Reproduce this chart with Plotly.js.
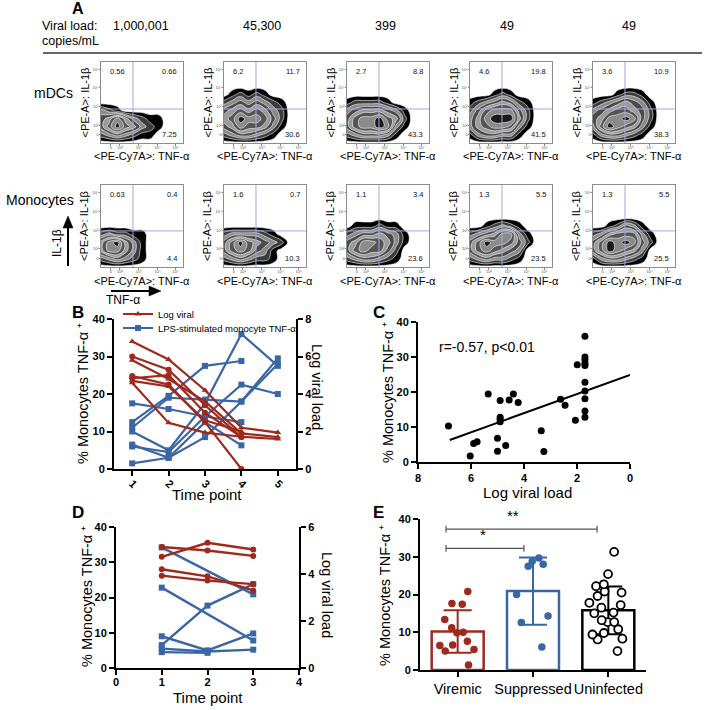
<!DOCTYPE html>
<html><head><meta charset="utf-8">
<script src="https://cdn.plot.ly/plotly-3.0.1.min.js"></script>
<style>html,body{margin:0;padding:0;background:#fff}#chart{width:708px;height:710px}</style>
</head><body><div id="chart"></div>
<script>
// ---------------- Panel A data ----------------
const viralLoads = ["1,000,001", "45,300", "399", "49", "49"];
const mdcQuad = [["0.56","0.66","7.25"],["6.2","11.7","30.6"],["2.7","8.8","43.3"],["4.6","19.8","41.5"],["3.6","10.9","38.3"]];
const monoQuad = [["0.63","0.4","4.4"],["1.6","0.7","10.3"],["1.1","3.4","23.6"],["1.3","5.5","23.5"],["1.3","5.5","25.5"]];
const flowGridX = [0,0.1,0.2,0.3,0.4,0.5,0.6,0.7,0.8];
const flowGridY = [0,0.1,0.2,0.3,0.4,0.5,0.6,0.7,0.8];
const flowTickText = ["0","10²","10³","10⁴","10⁵"];
// density rows, bottom (y=0) to top (y=0.8)
const mdcDensity = [
 ["000000000","234321100","468653210","457532110","321000000","000000000","000000000","000000000","000000000"],
 ["000000000","234432100","457665310","568776420","456565320","234343210","012121000","000000000","000000000"],
 ["000000000","234443100","467787310","467786520","345554310","122221000","000000000","000000000","000000000"],
 ["000000000","134433100","356776310","357888520","246777420","123454210","000121000","000000000","000000000"],
 ["000000000","134432100","368765310","457787420","345665420","123454310","000122100","000000000","000000000"]
];
const monoDensity = [
 ["000000000","234321000","577531000","578531000","232211000","000000000","000000000","000000000","000000000"],
 ["000000000","234322100","467643100","468654320","233332100","000000000","000000000","000000000","000000000"],
 ["000000000","234432100","467664200","457765310","234454310","011121100","000000000","000000000","000000000"],
 ["000000000","234332100","467654300","468776420","234577310","001232100","000000000","000000000","000000000"],
 ["000000000","134432100","468765300","468787420","235666310","001243100","000000000","000000000","000000000"]
];

// ---------------- Panel B data ----------------
const timePointsB = [1,2,3,4,5];
const bLogViral = [
 [6.8,5.84,4.2,2.2,1.94],
 [6.0,5.3,3.4,1.7,null],
 [5.8,4.8,3.6,1.9,1.7],
 [4.96,4.5,2.5,0,null],
 [4.84,5.0,3.0,1.7,null],
 [4.7,4.4,2.6,2.0,null],
 [4.6,2.46,1.94,1.72,1.6]
];
const bLogSymbols = ["triangle-up","circle","triangle-up","circle","circle","triangle-up","triangle-up"];
const bTnf = [
 [1.5,3,8.5,18,28],
 [6,4.5,14,22.5,20],
 [12.5,19.5,27.5,28.8,null],
 [17.5,16,14,12.5,null],
 [11,19,18.5,18,29.5],
 [10,5,17.5,36,27.5],
 [6.5,3,12.5,6.3,null]
];

// ---------------- Panel C data ----------------
const cLogViral = [6.85,5.9,5.77,6.03,5.35,4.9,4.9,4.9,4.9,5.0,5.0,4.69,4.56,4.4,4.22,3.35,3.25,2.62,2.45,2.06,1.99,1.7,1.7,1.7,1.7,1.7,1.7,1.7,1.7,1.7,1.7];
const cTnf = [10.3,5.3,5.8,1.7,19.4,17.6,12.8,12.2,11.5,6.8,3.1,4.7,17.7,19.4,17.0,8.9,3.0,17.9,16.2,11.9,27.8,35.9,30.0,29.2,28.2,27.6,22.8,20.3,18.1,14.6,12.8];
const cFitX = [6.8, 0];
const cFitY = [6.3, 24.9];
const cStat = "r=-0.57, p<0.01";

// ---------------- Panel D data ----------------
const timePointsD = [1,2,3];
const dLogViral = [
 [5.15,5.0,4.77],
 [4.73,5.33,5.04],
 [4.2,3.9,3.3],
 [3.93,3.72,3.57]
];
const dTnf = [
 [34.2,null,20.9],
 [22.8,null,7.8],
 [6.5,17.7,23.8],
 [9,5,9.8],
 [5.5,4.7,5.2],
 [4.5,4.3,null]
];

// ---------------- Panel E data ----------------
const eGroups = ["Viremic","Suppressed","Uninfected"];
const eMeans = [10.2, 20.9, 15.8];
const eSD = [5.6, 8.9, 6.3];
const eViremic = [20.8,17.4,17.6,13.4,11.2,10.0,9.9,7.6,6.6,6.5,5.4,5.0,1.3];
const eSuppressed = [29.7,28.0,27.5,28.8,20.0,14.3,12.6,6.1];
const eUninfected = [31.3,25.4,22.2,22.7,20.8,20.5,19.6,17.8,17.2,16.5,15.2,15.0,13.2,12.7,12.7,10.8,9.8,9.4,8.3,8.1,5.0];

// ---------------- styling ----------------
const W = 708, H = 710;
const FONT = 'Liberation Sans, Arial, Helvetica, sans-serif';
const RED = '#9e2a1e', BLUE = '#3b66a5';
const YT = '% Monocytes TNF-α ⁺';
const px = x => x / W, py = y => 1 - y / H;

const traces = [];
const legendStyle = y => ({x: px(118), y: py(y), xanchor: 'left', yanchor: 'middle', bgcolor: 'rgba(0,0,0,0)',
  font: {size: 9.5, family: FONT, color: '#000'}, itemwidth: 30, tracegroupgap: 0});
const layout = {
  width: W, height: H, margin: {l:0, r:0, t:0, b:0},
  paper_bgcolor: '#fff', plot_bgcolor: 'rgba(0,0,0,0)',
  font: {family: FONT, color: '#000'},
  showlegend: true, barmode: 'overlay',
  legend: legendStyle(314), legend2: legendStyle(328),
  annotations: [], shapes: []
};
const ann = layout.annotations, shp = layout.shapes;
function txt(x, y, text, o) {
  ann.push(Object.assign({x: px(x), y: py(y), xref: 'paper', yref: 'paper', text: text, showarrow: false,
    xanchor: 'center', yanchor: 'middle', font: {family: FONT, size: 13, color: '#000'}}, o || {}));
}
function pline(x0, y0, x1, y1, color, width) {
  shp.push({type: 'line', xref: 'paper', yref: 'paper', x0: px(x0), x1: px(x1), y0: py(y0), y1: py(y1), line: {color: color, width: width}});
}
function ppath(pts, color) {
  const d = pts.map((p, i) => (i ? 'L' : 'M') + px(p[0]).toFixed(5) + ',' + py(p[1]).toFixed(5)).join(' ') + ' Z';
  shp.push({type: 'path', xref: 'paper', yref: 'paper', path: d, fillcolor: color, line: {color: color, width: 0.5}});
}

// ---------------- Panel A ----------------
txt(78, 9, '<b>A</b>', {font: {family: FONT, size: 16}});
txt(40, 26, 'Viral load:', {xanchor: 'left', font: {family: FONT, size: 12.5}});
txt(40, 41, 'copies/mL', {xanchor: 'left', font: {family: FONT, size: 12.5}});
const vlX = [111, 241, 373, 498, 620];
viralLoads.forEach((v, i) => txt(vlX[i], 26, v, {xanchor: 'left', font: {family: FONT, size: 12.5}}));
pline(43, 53, 702, 53, '#333', 1.5);
txt(53, 93, 'mDCs', {font: {family: FONT, size: 14}});
txt(40, 200, 'Monocytes', {font: {family: FONT, size: 14}});
// arrows
pline(68, 266, 68, 226, '#000', 2);
ppath([[68, 216], [63, 228], [73, 228]], '#000');
pline(111, 291, 151, 291, '#000', 2);
ppath([[161, 291], [149, 286], [149, 296]], '#000');
txt(57, 243, 'IL-1β', {textangle: -90, font: {family: FONT, size: 12}});
txt(123, 300, 'TNF-α', {font: {family: FONT, size: 12}});

// stepped grey "zebra" scale, one colour per density band
const bandColors = ['#ffffff','#000000','#3c3c3c','#8a8a8a','#4a4a4a','#9a9a9a','#555555','#8a8a8a','#1a1a1a','#000000'];
const zebra = [];
bandColors.forEach((c, b) => {
  const a = b === 0 ? 0 : (b - 0.5) / 9, e = b === 9 ? 1 : (b + 0.5) / 9 - 0.0005;
  zebra.push([a, c]); zebra.push([e, c]);
});
const parseRows = rows => rows.map(r => r.split('').map(Number));

[0, 1].forEach(row => {
  const dens = row === 0 ? mdcDensity : monoDensity;
  const quads = row === 0 ? mdcQuad : monoQuad;
  const top = row === 0 ? 62 : 185, bottom = row === 0 ? 143 : 267;
  const hGate = row === 0 ? 0.42 : 0.44;
  for (let i = 0; i < 5; i++) {
    const k = row * 5 + i + 1;
    const xa = 'x' + (k === 1 ? '' : k), ya = 'y' + (k === 1 ? '' : k);
    const left = 101 + 123 * i, right = left + 82;
    const common = {range: [0, 1], showgrid: false, zeroline: false, showline: true, mirror: true,
      linecolor: '#8c8c8c', linewidth: 1, ticks: 'outside', ticklen: 1.5, tickwidth: 0.8, tickcolor: '#666',
      tickmode: 'array', ticktext: flowTickText, ticklabelstandoff: -1,
      tickfont: {size: 4, color: '#555', family: FONT}, fixedrange: true};
    layout['xaxis' + (k === 1 ? '' : k)] = Object.assign({}, common, {domain: [px(left), px(right)], anchor: ya, tickvals: [0.12,0.23,0.46,0.69,0.91]});
    layout['yaxis' + (k === 1 ? '' : k)] = Object.assign({}, common, {domain: [py(bottom), py(top)], anchor: xa, tickvals: [0.1,0.22,0.45,0.68,0.91]});
    traces.push({type: 'contour', x: flowGridX, y: flowGridY, z: parseRows(dens[i]), xaxis: xa, yaxis: ya,
      zmin: 0, zmax: 9, autocontour: false, contours: {start: 0.5, end: 8.5, size: 1, coloring: 'fill'},
      line: {color: '#ffffff', width: 0.6, smoothing: 1.2}, colorscale: zebra, showscale: false,
      hoverinfo: 'skip', showlegend: false});
    shp.push({type: 'line', xref: xa, yref: ya, x0: 0.39, x1: 0.39, y0: 0, y1: 1, line: {color: '#a6a6dc', width: 1}, layer: 'above'});
    shp.push({type: 'line', xref: xa, yref: ya, x0: 0, x1: 1, y0: hGate, y1: hGate, line: {color: '#a6a6dc', width: 1}, layer: 'above'});
    const qf = {family: FONT, size: 7.5, color: '#111'};
    ann.push({xref: xa, yref: ya, x: 0.09, y: 0.88, text: quads[i][0], showarrow: false, xanchor: 'left', yanchor: 'middle', font: qf});
    ann.push({xref: xa, yref: ya, x: 0.95, y: 0.88, text: quads[i][1], showarrow: false, xanchor: 'right', yanchor: 'middle', font: qf});
    ann.push({xref: xa, yref: ya, x: 0.95, y: 0.1, text: quads[i][2], showarrow: false, xanchor: 'right', yanchor: 'middle', font: qf});
    txt((left + right) / 2, bottom + (row === 0 ? 13 : 14), '&lt;PE-Cy7A&gt;: TNF-α', {font: {family: FONT, size: 11}});
    txt(left - 17, (top + bottom) / 2, '&lt;PE-A&gt;: IL-1β', {textangle: -90, font: {family: FONT, size: 11}});
  }
});

// ---------------- common axis style ----------------
const axBase = () => ({showgrid: false, zeroline: false, showline: true, linecolor: '#000', linewidth: 2,
  ticks: 'outside', ticklen: 5, tickwidth: 2, tickcolor: '#000',
  tickfont: {family: FONT, size: 11, color: '#000', weight: 'bold'}, fixedrange: true});

// ---------------- Panel B ----------------
txt(78, 312, '<b>B</b>', {font: {family: FONT, size: 17}});
layout.xaxis11 = Object.assign(axBase(), {domain: [px(114), px(296)], anchor: 'y11', range: [0.5, 5.5], tickmode: 'array', tickvals: timePointsB, tickangle: 45, ticklabelstandoff: -3});
layout.yaxis11 = Object.assign(axBase(), {domain: [py(469), py(319)], anchor: 'x11', range: [0, 40], dtick: 10});
layout.yaxis12 = Object.assign(axBase(), {overlaying: 'y11', side: 'right', anchor: 'x11', range: [0, 8], dtick: 2});
bLogViral.forEach((s, j) => traces.push({type: 'scatter', mode: 'lines+markers', x: timePointsB, y: s, xaxis: 'x11', yaxis: 'y12',
  line: {color: RED, width: 2.2}, marker: {color: RED, size: 6, symbol: bLogSymbols[j]}, connectgaps: false,
  name: 'Log viral', legend: 'legend', legendgroup: 'lv', showlegend: j === 0, hoverinfo: 'skip'}));
bTnf.forEach((s, j) => traces.push({type: 'scatter', mode: 'lines+markers', x: timePointsB, y: s, xaxis: 'x11', yaxis: 'y11',
  line: {color: BLUE, width: 2.2}, marker: {color: BLUE, size: 6, symbol: 'square'},
  name: 'LPS-stimulated monocyte TNF-α', legend: 'legend2', legendgroup: 'tnf', showlegend: j === 0, hoverinfo: 'skip'}));
txt(83, 394, YT, {textangle: -90, font: {family: FONT, size: 14.5}});
txt(317, 387, 'Log viral load', {textangle: 90, font: {family: FONT, size: 14.5}});
txt(207, 494, 'Time point', {font: {family: FONT, size: 15}});

// ---------------- Panel C ----------------
txt(379, 312, '<b>C</b>', {font: {family: FONT, size: 17}});
layout.xaxis12 = Object.assign(axBase(), {domain: [px(418), px(630)], anchor: 'y13', range: [8, 0], tickmode: 'array', tickvals: [8,6,4,2,0]});
layout.yaxis13 = Object.assign(axBase(), {domain: [py(462), py(322)], anchor: 'x12', range: [0, 40], dtick: 10});
traces.push({type: 'scatter', mode: 'markers', x: cLogViral, y: cTnf, xaxis: 'x12', yaxis: 'y13',
  marker: {color: '#000', size: 7}, showlegend: false, hoverinfo: 'skip'});
traces.push({type: 'scatter', mode: 'lines', x: cFitX, y: cFitY, xaxis: 'x12', yaxis: 'y13',
  line: {color: '#000', width: 2}, showlegend: false, hoverinfo: 'skip'});
txt(437, 347, cStat, {xanchor: 'left', font: {family: FONT, size: 14}});
txt(388, 392, YT, {textangle: -90, font: {family: FONT, size: 14.5}});
txt(527, 492, 'Log viral load', {font: {family: FONT, size: 15}});

// ---------------- Panel D ----------------
txt(78, 512, '<b>D</b>', {font: {family: FONT, size: 17}});
layout.xaxis13 = Object.assign(axBase(), {domain: [px(116), px(299)], anchor: 'y14', range: [0, 4], dtick: 1, ticklabelstandoff: -2});
layout.yaxis14 = Object.assign(axBase(), {domain: [py(668), py(527)], anchor: 'x13', range: [0, 40], dtick: 10});
layout.yaxis15 = Object.assign(axBase(), {overlaying: 'y14', side: 'right', anchor: 'x13', range: [0, 6], dtick: 2});
dLogViral.forEach(s => traces.push({type: 'scatter', mode: 'lines+markers', x: timePointsD, y: s, xaxis: 'x13', yaxis: 'y15',
  line: {color: RED, width: 2.4}, marker: {color: RED, size: 6}, showlegend: false, hoverinfo: 'skip'}));
dTnf.forEach(s => traces.push({type: 'scatter', mode: 'lines+markers', x: timePointsD, y: s, xaxis: 'x13', yaxis: 'y14',
  line: {color: BLUE, width: 2.4}, marker: {color: BLUE, size: 6, symbol: 'square'}, connectgaps: true, showlegend: false, hoverinfo: 'skip'}));
txt(87, 597, YT, {textangle: -90, font: {family: FONT, size: 14.5}});
txt(327, 595, 'Log viral load', {textangle: 90, font: {family: FONT, size: 14.5}});
txt(208, 697, 'Time point', {font: {family: FONT, size: 15}});

// ---------------- Panel E ----------------
txt(378, 512, '<b>E</b>', {font: {family: FONT, size: 17}});
layout.xaxis14 = Object.assign(axBase(), {domain: [px(420), px(646)], anchor: 'y16', type: 'category', range: [-0.5, 2.5],
  tickangle: 0, tickfont: {family: FONT, size: 14.5, color: '#000'}});
layout.yaxis16 = Object.assign(axBase(), {domain: [py(670), py(519)], anchor: 'x14', range: [0, 40], dtick: 10});
const eColors = [RED, BLUE, '#000'];
const ePoints = [eViremic, eSuppressed, eUninfected];
eGroups.forEach((g, i) => {
  traces.push({type: 'bar', x: [g], y: [eMeans[i]], xaxis: 'x14', yaxis: 'y16', width: 0.69,
    marker: {color: 'rgba(255,255,255,0)', line: {color: eColors[i], width: 2.5}},
    error_y: {type: 'data', array: [eSD[i]], visible: true, color: eColors[i], thickness: 2, width: 14},
    showlegend: false, hoverinfo: 'skip'});
});
eGroups.forEach((g, i) => {
  traces.push({type: 'box', x: ePoints[i].map(() => g), y: ePoints[i], xaxis: 'x14', yaxis: 'y16',
    boxpoints: 'all', jitter: 0.8, pointpos: 0, width: 0.7,
    fillcolor: 'rgba(0,0,0,0)', line: {width: 0, color: 'rgba(0,0,0,0)'},
    marker: i === 2 ? {color: '#fff', size: 8, line: {color: '#000', width: 1.8}} : {color: eColors[i], size: 7.5},
    showlegend: false, hoverinfo: 'skip'});
});
const brk = (x0, x1, y) => {
  shp.push({type: 'line', xref: 'x14', yref: 'y16', x0: x0, x1: x1, y0: y, y1: y, line: {color: '#555', width: 1.2}});
  shp.push({type: 'line', xref: 'x14', yref: 'y16', x0: x0, x1: x0, y0: y - 0.9, y1: y + 0.9, line: {color: '#555', width: 1.2}});
  shp.push({type: 'line', xref: 'x14', yref: 'y16', x0: x1, x1: x1, y0: y - 0.9, y1: y + 0.9, line: {color: '#555', width: 1.2}});
};
brk(-0.155, 1.85, 37.3);
brk(-0.155, 0.88, 32.2);
ann.push({xref: 'x14', yref: 'y16', x: 0.73, y: 38.2, text: '**', showarrow: false, yanchor: 'bottom', font: {family: FONT, size: 15, color: '#000'}});
ann.push({xref: 'x14', yref: 'y16', x: 0.34, y: 33.1, text: '*', showarrow: false, yanchor: 'bottom', font: {family: FONT, size: 15, color: '#000'}});
txt(385, 595, YT, {textangle: -90, font: {family: FONT, size: 14.5}});

Plotly.newPlot('chart', traces, layout, {staticPlot: true, displayModeBar: false});
</script>
</body></html>
